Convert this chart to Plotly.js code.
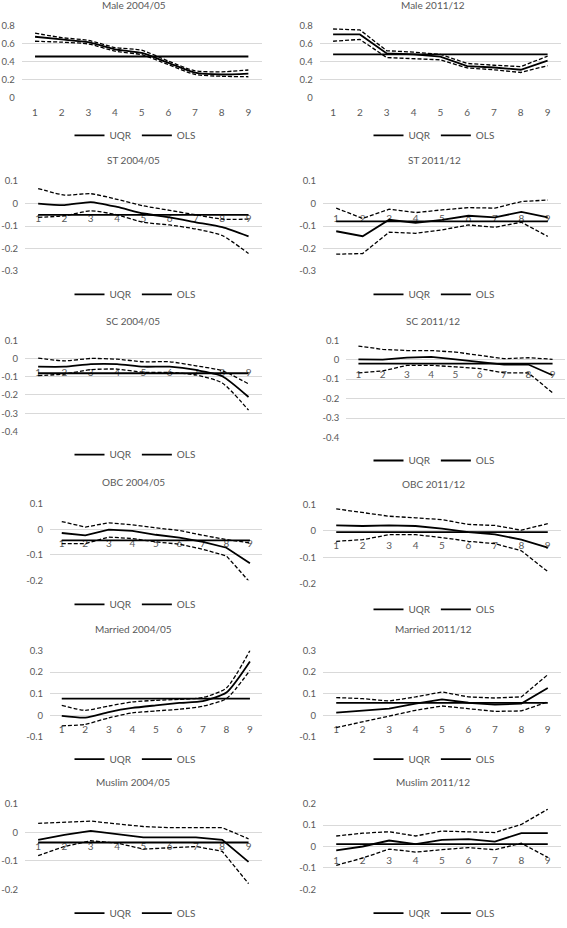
<!DOCTYPE html>
<html><head><meta charset="utf-8">
<script src="https://cdn.plot.ly/plotly-3.0.1.min.js"></script>
<style>html,body{margin:0;padding:0;background:#fff}#chart{width:567px;height:928px}</style>
</head><body><div id="chart"></div>
<script>
// ---------------- DATA ----------------
const quantiles = [1, 2, 3, 4, 5, 6, 7, 8, 9];
const seriesNames = ["UQR", "OLS"];
const panelTitles = ["Male 2004/05", "Male 2011/12", "ST 2004/05", "ST 2011/12",
  "SC 2004/05", "SC 2011/12", "OBC 2004/05", "OBC 2011/12",
  "Married 2004/05", "Married 2011/12", "Muslim 2004/05", "Muslim 2011/12"];

const male04Uqr   = [0.68, 0.65, 0.62, 0.54, 0.50, 0.39, 0.28, 0.26, 0.27];
const male04Upper = [0.72, 0.67, 0.64, 0.56, 0.53, 0.41, 0.30, 0.29, 0.31];
const male04Lower = [0.63, 0.62, 0.60, 0.52, 0.48, 0.37, 0.26, 0.24, 0.235];
const male04Ols   = 0.46;
const male04Ticks = [0, 0.2, 0.4, 0.6, 0.8];

const male11Uqr   = [0.70, 0.70, 0.49, 0.48, 0.455, 0.35, 0.335, 0.31, 0.41];
const male11Upper = [0.76, 0.75, 0.52, 0.505, 0.48, 0.38, 0.36, 0.345, 0.46];
const male11Lower = [0.625, 0.645, 0.445, 0.435, 0.42, 0.33, 0.31, 0.28, 0.355];
const male11Ols   = 0.48;
const male11Ticks = [0, 0.2, 0.4, 0.6, 0.8];

const st04Uqr   = [0.0, -0.007, 0.007, -0.015, -0.044, -0.061, -0.083, -0.105, -0.146];
const st04Upper = [0.067, 0.038, 0.044, 0.019, -0.01, -0.03, -0.05, -0.069, -0.069];
const st04Lower = [-0.061, -0.054, -0.032, -0.05, -0.083, -0.095, -0.113, -0.142, -0.222];
const st04Ols   = -0.05;
const st04Ticks = [-0.3, -0.2, -0.1, 0, 0.1];

const st11Uqr   = [-0.123, -0.145, -0.072, -0.086, -0.072, -0.054, -0.061, -0.037, -0.061];
const st11Upper = [-0.02, -0.066, -0.025, -0.04, -0.028, -0.018, -0.02, 0.009, 0.016];
const st11Lower = [-0.225, -0.222, -0.127, -0.132, -0.117, -0.095, -0.105, -0.083, -0.146];
const st11Ols   = -0.079;
const st11Ticks = [-0.3, -0.2, -0.1, 0, 0.1];

const sc04Uqr   = [-0.045, -0.045, -0.031, -0.031, -0.045, -0.045, -0.063, -0.097, -0.211];
const sc04Upper = [0.002, -0.013, 0.0, -0.004, -0.018, -0.018, -0.04, -0.067, -0.139];
const sc04Lower = [-0.094, -0.085, -0.061, -0.058, -0.076, -0.076, -0.09, -0.134, -0.283];
const sc04Ols   = -0.081;
const sc04Ticks = [-0.4, -0.3, -0.2, -0.1, 0, 0.1];

const sc11Uqr   = [0.002, 0.0, 0.01, 0.014, 0.002, -0.012, -0.025, -0.025, -0.08];
const sc11Upper = [0.07, 0.053, 0.047, 0.047, 0.039, 0.022, 0.005, 0.01, 0.002];
const sc11Lower = [-0.068, -0.058, -0.029, -0.029, -0.037, -0.046, -0.068, -0.068, -0.17];
const sc11Ols   = -0.02;
const sc11Ticks = [-0.4, -0.3, -0.2, -0.1, 0, 0.1];

const obc04Uqr   = [-0.014, -0.023, -0.001, -0.006, -0.021, -0.032, -0.049, -0.072, -0.133];
const obc04Upper = [0.031, 0.009, 0.026, 0.018, 0.006, -0.004, -0.023, -0.04, -0.053];
const obc04Lower = [-0.056, -0.056, -0.03, -0.036, -0.049, -0.058, -0.078, -0.104, -0.208];
const obc04Ols   = -0.043;
const obc04Ticks = [-0.2, -0.1, 0, 0.1];

const obc11Uqr   = [0.021, 0.019, 0.021, 0.019, 0.009, -0.004, -0.013, -0.033, -0.063];
const obc11Upper = [0.084, 0.069, 0.056, 0.05, 0.043, 0.025, 0.021, 0.003, 0.028];
const obc11Lower = [-0.039, -0.033, -0.014, -0.014, -0.025, -0.039, -0.048, -0.075, -0.154];
const obc11Ols   = -0.004;
const obc11Ticks = [-0.2, -0.1, 0, 0.1];

const mar04Uqr   = [-0.003, -0.011, 0.015, 0.034, 0.046, 0.057, 0.066, 0.105, 0.249];
const mar04Upper = [0.046, 0.023, 0.043, 0.062, 0.069, 0.074, 0.082, 0.126, 0.30];
const mar04Lower = [-0.049, -0.042, -0.012, 0.011, 0.02, 0.028, 0.042, 0.077, 0.208];
const mar04Ols   = 0.077;
const mar04Ticks = [-0.1, 0, 0.1, 0.2, 0.3];

const mar11Uqr   = [0.012, 0.023, 0.031, 0.054, 0.074, 0.058, 0.049, 0.054, 0.126];
const mar11Upper = [0.082, 0.077, 0.066, 0.085, 0.108, 0.085, 0.08, 0.085, 0.188];
const mar11Lower = [-0.057, -0.031, -0.005, 0.023, 0.043, 0.031, 0.018, 0.02, 0.062];
const mar11Ols   = 0.057;
const mar11Ticks = [-0.1, 0, 0.1, 0.2, 0.3];

const mus04Uqr   = [-0.027, -0.009, 0.005, -0.006, -0.018, -0.018, -0.018, -0.027, -0.104];
const mus04Upper = [0.031, 0.035, 0.039, 0.029, 0.02, 0.016, 0.016, 0.016, -0.023];
const mus04Lower = [-0.082, -0.05, -0.03, -0.038, -0.059, -0.055, -0.05, -0.067, -0.18];
const mus04Ols   = -0.036;
const mus04Ticks = [-0.2, -0.1, 0, 0.1];

const mus11Uqr   = [-0.018, 0.0, 0.028, 0.011, 0.031, 0.034, 0.023, 0.062, 0.062];
const mus11Upper = [0.049, 0.062, 0.069, 0.049, 0.072, 0.069, 0.065, 0.103, 0.174];
const mus11Lower = [-0.088, -0.054, -0.012, -0.026, -0.015, -0.005, -0.015, 0.015, -0.051];
const mus11Ols   = 0.011;
const mus11Ticks = [-0.2, -0.1, 0, 0.1, 0.2];

// ---------------- LAYOUT GEOMETRY (pixels) ----------------
const W = 567, H = 928;
const geom = [
  {x0: 21.7, x1: 261.7, yt: 26.3, yb: 99,   tx: 134, ty: 5,  lx: 135, ly: 137,   smooth: true},
  {x0: 319.7, x1: 561,  yt: 25.7, yb: 99,   tx: 433, ty: 5,  lx: 434, ly: 137,   smooth: false},
  {x0: 25,   x1: 261.7, yt: 183.3, yb: 274.3, tx: 133, ty: 162, lx: 135, ly: 298,  smooth: true},
  {x0: 323,  x1: 561,   yt: 183.3, yb: 274.3, tx: 434, ty: 162, lx: 434, ly: 298,  smooth: false},
  {x0: 25,   x1: 261.7, yt: 344.3, yb: 436.7, tx: 133, ty: 325, lx: 135, ly: 460,  smooth: true},
  {x0: 346.3, x1: 564.7, yt: 344.3, yb: 442.7, tx: 433, ty: 325, lx: 434, ly: 466, smooth: false},
  {x0: 50,   x1: 261.7, yt: 510,   yb: 587.3, tx: 133, ty: 488, lx: 135, ly: 611.7, smooth: false},
  {x0: 323,  x1: 561,   yt: 510.7, yb: 590.7, tx: 433, ty: 490, lx: 434, ly: 616.7, smooth: false},
  {x0: 50,   x1: 261.7, yt: 658.3, yb: 745.7, tx: 133, ty: 636.7, lx: 135, ly: 768.3, smooth: true},
  {x0: 323,  x1: 561,   yt: 658.3, yb: 745.7, tx: 433, ty: 636.7, lx: 434, ly: 768.3, smooth: false},
  {x0: 25,   x1: 261.7, yt: 813.3, yb: 900,   tx: 133, ty: 791.7, lx: 135, ly: 924, smooth: false},
  {x0: 323,  x1: 561,   yt: 813.3, yb: 900,   tx: 433, ty: 791.7, lx: 434, ly: 924, smooth: false}
];

const panelData = [
  [male04Uqr, male04Upper, male04Lower, male04Ols, male04Ticks],
  [male11Uqr, male11Upper, male11Lower, male11Ols, male11Ticks],
  [st04Uqr, st04Upper, st04Lower, st04Ols, st04Ticks],
  [st11Uqr, st11Upper, st11Lower, st11Ols, st11Ticks],
  [sc04Uqr, sc04Upper, sc04Lower, sc04Ols, sc04Ticks],
  [sc11Uqr, sc11Upper, sc11Lower, sc11Ols, sc11Ticks],
  [obc04Uqr, obc04Upper, obc04Lower, obc04Ols, obc04Ticks],
  [obc11Uqr, obc11Upper, obc11Lower, obc11Ols, obc11Ticks],
  [mar04Uqr, mar04Upper, mar04Lower, mar04Ols, mar04Ticks],
  [mar11Uqr, mar11Upper, mar11Lower, mar11Ols, mar11Ticks],
  [mus04Uqr, mus04Upper, mus04Lower, mus04Ols, mus04Ticks],
  [mus11Uqr, mus11Upper, mus11Lower, mus11Ols, mus11Ticks]
];

// ---------------- BUILD ----------------
const FONT = "Lato, 'Liberation Sans', sans-serif";
const GREY = "#595959";
const traces = [];
const layout = {
  width: W, height: H, autosize: false,
  margin: {l: 0, r: 0, t: 0, b: 0},
  paper_bgcolor: "#ffffff", plot_bgcolor: "rgba(0,0,0,0)",
  font: {family: FONT, size: 10, color: GREY},
  annotations: []
};

panelData.forEach((p, i) => {
  const [uqr, upper, lower, ols, ticks] = p;
  const g = geom[i];
  const n = i + 1;
  const xa = n === 1 ? "xaxis" : "xaxis" + n;
  const ya = n === 1 ? "yaxis" : "yaxis" + n;
  const xr = n === 1 ? "x" : "x" + n;
  const yr = n === 1 ? "y" : "y" + n;
  const lg = n === 1 ? "legend" : "legend" + n;
  const ymin = ticks[0], ymax = ticks[ticks.length - 1];
  const yd = [1 - g.yb / H, 1 - g.yt / H];
  const zeroPos = yd[0] + (0 - ymin) / (ymax - ymin) * (yd[1] - yd[0]);
  const shape = g.smooth ? "spline" : "linear";

  const dashLine = {color: "#000000", width: 1.3, dash: "4px,2px", shape: shape, smoothing: 0.6};
  traces.push({x: quantiles, y: upper, xaxis: xr, yaxis: yr, mode: "lines", line: dashLine,
               showlegend: false, hoverinfo: "skip", cliponaxis: false});
  traces.push({x: quantiles, y: lower, xaxis: xr, yaxis: yr, mode: "lines", line: dashLine,
               showlegend: false, hoverinfo: "skip", cliponaxis: false});
  traces.push({x: quantiles, y: uqr, xaxis: xr, yaxis: yr, mode: "lines", name: seriesNames[0],
               line: {color: "#000000", width: 1.8, shape: shape, smoothing: 0.6},
               legend: lg, showlegend: true, cliponaxis: false});
  traces.push({x: quantiles, y: quantiles.map(() => ols), xaxis: xr, yaxis: yr, mode: "lines",
               name: seriesNames[1], line: {color: "#000000", width: 1.8},
               legend: lg, showlegend: true, cliponaxis: false});

  layout[xa] = {
    domain: [g.x0 / W, g.x1 / W], range: [0.5, 9.5], fixedrange: true,
    anchor: "free", position: zeroPos,
    tickvals: quantiles, ticktext: quantiles.map(String),
    showgrid: false, zeroline: false, showline: false, ticks: "",
    tickfont: {family: FONT, size: 10, color: GREY}, layer: "below traces",
    ticklabelstandoff: 7
  };
  layout[ya] = {
    domain: yd, range: [ymin, ymax], fixedrange: true, anchor: xr,
    tickvals: ticks, ticktext: ticks.map(String),
    showgrid: true, gridcolor: "#d9d9d9", gridwidth: 1,
    zeroline: false, showline: false, ticks: "",
    tickfont: {family: FONT, size: 9.5, color: GREY},
    ticklabelstandoff: 6
  };
  layout[lg] = {
    orientation: "h", x: g.lx / W, y: 1 - g.ly / H, xanchor: "center", yanchor: "middle",
    xref: "paper", yref: "paper",
    bgcolor: "rgba(0,0,0,0)", font: {family: FONT, size: 10, color: GREY},
    itemwidth: 30, tracegroupgap: 0
  };
  layout.annotations.push({
    text: panelTitles[i], xref: "paper", yref: "paper",
    x: g.tx / W, y: 1 - g.ty / H, xanchor: "center", yanchor: "middle",
    showarrow: false, font: {family: FONT, size: 10, color: GREY}
  });
});

Plotly.newPlot("chart", traces, layout, {displayModeBar: false, staticPlot: true});
</script>
</body></html>
